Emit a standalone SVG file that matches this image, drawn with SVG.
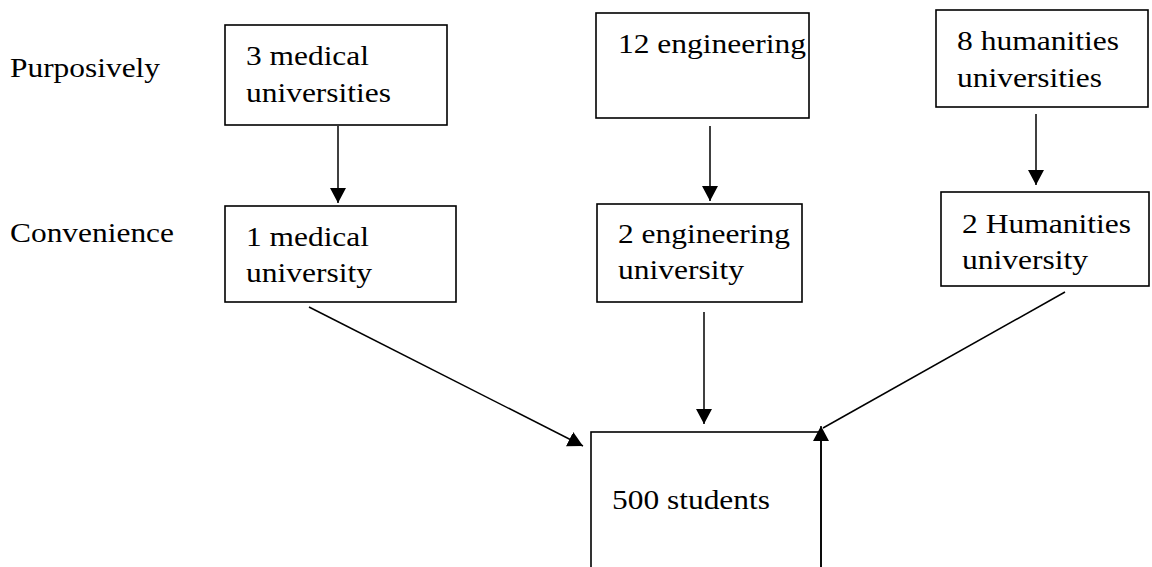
<svg xmlns="http://www.w3.org/2000/svg" width="1152" height="567" viewBox="0 0 1152 567">
<style>
.box{fill:#fff;stroke:#000;stroke-width:1.6}
.t{font-family:"Liberation Serif","DejaVu Serif","Noto Serif",serif;font-size:27px;fill:#000}
.c{stroke:#000;stroke-width:1.5;fill:none}
</style>
<defs>
<marker id="ah" markerUnits="userSpaceOnUse" markerWidth="16" markerHeight="16" refX="15" refY="8" orient="auto">
<path d="M0,0 L15,8 L0,16 z" fill="#000"/>
</marker>
</defs>
<rect width="1152" height="567" fill="#fff"/>
<g id="labels">
<text class="t" x="10" y="77" textLength="150" lengthAdjust="spacingAndGlyphs">Purposively</text>
<text class="t" x="10" y="242" textLength="164" lengthAdjust="spacingAndGlyphs">Convenience</text>
</g>
<g id="n_med3">
<rect class="box" x="225" y="25" width="222" height="100"/>
<text class="t" x="246" y="65" textLength="123" lengthAdjust="spacingAndGlyphs">3 medical</text>
<text class="t" x="246" y="102" textLength="145" lengthAdjust="spacingAndGlyphs">universities</text>
</g>
<g id="n_eng12">
<rect class="box" x="596" y="13" width="213" height="105"/>
<text class="t" x="618" y="53" textLength="188" lengthAdjust="spacingAndGlyphs">12 engineering</text>
</g>
<g id="n_hum8">
<rect class="box" x="936" y="10" width="212" height="97"/>
<text class="t" x="957" y="50" textLength="162" lengthAdjust="spacingAndGlyphs">8 humanities</text>
<text class="t" x="957" y="87" textLength="145" lengthAdjust="spacingAndGlyphs">universities</text>
</g>
<g id="n_med1">
<rect class="box" x="225" y="206" width="231" height="96"/>
<text class="t" x="246" y="246" textLength="123" lengthAdjust="spacingAndGlyphs">1 medical</text>
<text class="t" x="246" y="282" textLength="126" lengthAdjust="spacingAndGlyphs">university</text>
</g>
<g id="n_eng2">
<rect class="box" x="597" y="204" width="205" height="98"/>
<text class="t" x="618" y="243" textLength="172" lengthAdjust="spacingAndGlyphs">2 engineering</text>
<text class="t" x="618" y="279" textLength="126" lengthAdjust="spacingAndGlyphs">university</text>
</g>
<g id="n_hum2">
<rect class="box" x="941" y="192" width="208" height="94"/>
<text class="t" x="962" y="233" textLength="169" lengthAdjust="spacingAndGlyphs">2 Humanities</text>
<text class="t" x="962" y="269" textLength="126" lengthAdjust="spacingAndGlyphs">university</text>
</g>
<g id="n_students">
<rect class="box" x="591" y="432" width="230" height="150"/>
<text class="t" x="612" y="509" textLength="158" lengthAdjust="spacingAndGlyphs">500 students</text>
</g>
<g id="connectors">
<line class="c" x1="338" y1="126" x2="338" y2="203" marker-end="url(#ah)"/>
<line class="c" x1="710" y1="126" x2="710" y2="201" marker-end="url(#ah)"/>
<line class="c" x1="1036" y1="114" x2="1036" y2="185" marker-end="url(#ah)"/>
<line class="c" x1="309" y1="307" x2="583" y2="446" marker-end="url(#ah)"/>
<line class="c" x1="704" y1="312" x2="704" y2="424" marker-end="url(#ah)"/>
<line class="c" x1="1065" y1="292" x2="823" y2="428"/>
<line class="c" x1="821" y1="570" x2="821" y2="426" marker-end="url(#ah)"/>
</g>
</svg>
